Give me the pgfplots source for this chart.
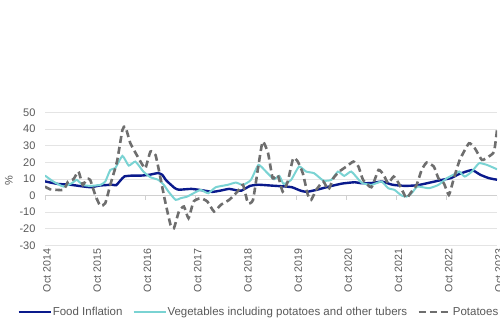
\documentclass[border=0pt]{standalone}
\usepackage{pgfplots}
\pgfplotsset{compat=1.18}
\usepackage{fontspec}
\setmainfont{Liberation Sans}
\definecolor{foodc}{HTML}{0A1A8C}
\definecolor{vegc}{HTML}{7AD3D3}
\definecolor{potc}{HTML}{6E6E6E}
\definecolor{gridc}{HTML}{E4E4E4}
\definecolor{txtc}{HTML}{595959}
\definecolor{tickc}{HTML}{D0D0D0}
\begin{document}
\begin{tikzpicture}
\useasboundingbox (0,0) rectangle (500pt,326pt);
\begin{axis}[
  at={(45pt,80.5pt)}, anchor=south west,
  scale only axis, width=452pt, height=133.2pt,
  xmin=0, xmax=108, ymin=-30, ymax=50,
  axis line style={draw=none},
  xtick={0,12,...,108},
  xticklabels={Oct 2014,Oct 2015,Oct 2016,Oct 2017,Oct 2018,Oct 2019,Oct 2020,Oct 2021,Oct 2022,Oct 2023},
  ytick={-30,-20,...,50},
  yticklabels={-30,-20,-10,0,10,20,30,40,50},
  major tick length=0pt,
  ymajorgrids, grid style={gridc, line width=0.8pt},
  xticklabel style={rotate=90, anchor=east, font=\fontsize{10.6}{11}\selectfont, text=txtc, yshift=-2pt},
  yticklabel style={font=\fontsize{11}{12}\selectfont, text=txtc, xshift=-6pt},
  ylabel={\%}, ylabel style={at={(axis description cs:-0.08,0.49)}, anchor=center, rotate=0, font=\fontsize{11}{12}\selectfont, text=txtc},
  legend columns=3,
  legend style={draw=none, fill=none, at={(axis description cs:0.472,-0.5)}, anchor=center,
    font=\fontsize{11.5}{12}\selectfont, text=txtc, inner sep=0pt,
    /tikz/every even column/.append style={column sep=9pt},
    nodes={inner sep=1pt}},
  legend image code/.code={\draw[#1] (0pt,0pt) -- (32pt,0pt);},
]
\draw[tickc, line width=0.8pt] (axis cs:0,0) -- (axis cs:108,0);
\pgfplotsinvokeforeach{0,12,...,108}{\draw[tickc, line width=0.8pt] (axis cs:#1,0) -- ([yshift=-4pt]axis cs:#1,0);}
\addplot[foodc, line width=2.4pt, smooth, tension=0.3] coordinates {
(0,8.5) (3,7) (6,6.5) (9,5.5) (11,5) (13,6) (16,6.5) (17,6.2) (18,9) (19,11.5) (21,12) (23,12) (25,12.5) (27,13.5) (28,12.5) (29,9) (31,4.5) (32,3.5) (35,4) (38,3) (40,2.2) (42,3) (44,4) (46,3) (47,3) (49,5.8) (51,6.5) (54,6) (57,5.5) (59,5) (61,3) (62.5,2.2) (65,3.5) (68,5.5) (71,7.2) (74,8) (75.5,7.4) (78,7.5) (80.5,8.4) (83,6.5) (86,5.8) (89,6.2) (92,7.8) (95,9.5) (97,10.5) (99,13) (102,15.3) (104,12.5) (106,10.5) (108,9.5)
};
\addlegendentry{Food Inflation}
\addplot[vegc, line width=2pt, smooth, tension=0.3] coordinates {
(0,12) (2,8.4) (4.4,5.4) (6.4,7.4) (7.6,9.4) (9,6.4) (10.8,5.8) (13.2,6.4) (14.4,8.4) (15.6,15.4) (16.8,16.5) (18.5,23.8) (20,18) (21.6,20.4) (23.5,14.4) (25.2,11) (27.1,9.4) (28.4,6.4) (29.5,2.4) (31.2,-2.6) (32.4,-1.6) (34,-0.6) (35.5,1.4) (37.2,3.4) (39,1.4) (40.8,5) (43.6,6.4) (45.6,7.8) (47.3,6.4) (49.2,9.4) (51,18.4) (52.8,14.4) (54.7,9.8) (56,11.8) (57,7) (58.8,9.4) (60.7,17.4) (62.4,14.4) (64.3,13.4) (66.5,9) (68.4,9.4) (70,14.4) (71.5,11.8) (73.2,14.4) (75.6,7.8) (78,6.4) (80.4,8.4) (82,4.4) (83.5,3.4) (85.2,0) (86.4,-0.6) (87.6,1.4) (89,5.4) (91.7,4.4) (94,6.4) (96,10.4) (98,13) (99,14.4) (100.3,11.4) (102,14.4) (103.7,19.4) (105.6,18.4) (108,15.8)
};
\addlegendentry{Vegetables including potatoes and other tubers}
\addplot[potc, line width=2.6pt, dash pattern=on 7pt off 4pt, smooth, tension=0.3] coordinates {
(0,5.4) (1.2,3.8) (4.4,3.4) (5.5,8.4) (6.8,9.8) (8,14.4) (9,6.4) (10,10) (10.8,9.4) (12,0.4) (13.2,-6.2) (14.4,-4.6) (15.6,6.4) (17.2,20.4) (18.5,39.4) (19.2,41.4) (20.4,31.4) (22,24) (23.3,18.4) (24,16.4) (25.2,26.4) (26.4,24.4) (27.6,10.4) (28.8,-4.6) (30,-17.6) (30.8,-19.6) (32,-9.6) (33.2,-6.6) (34.3,-13.6) (35.5,-3.6) (37.2,-1.6) (38.8,-3.6) (40.4,-9.6) (42,-5.6) (44,-2.6) (46,2.4) (47.3,6.4) (48.5,-4.6) (49.7,-2.6) (50.9,16.4) (52,32.4) (53.3,25.4) (54.4,10.4) (55.6,12.4) (56.8,2.4) (58,8.4) (59.3,22.4) (60.4,20.4) (61.6,13.4) (62.8,0.4) (63.6,-2.6) (64.8,3.4) (66.5,8.4) (67.7,3.4) (68.9,10.4) (70.3,14.4) (72,17.4) (73.7,20.4) (74.9,17.4) (76,9.4) (78,5) (79.7,15.4) (80.9,12.4) (82,7.4) (83.3,11.4) (84.5,7.4) (85.7,1.4) (86.4,-1.6) (87.6,2.4) (88.8,6.4) (90,15.4) (91.2,19.8) (92.9,17.4) (94,10.4) (95.3,7.4) (96.5,0.4) (97.7,10.4) (99.1,21.4) (101.3,31.4) (102.7,28.4) (104.4,21.4) (106,23.4) (107.3,26.4) (108,39.4)
};
\addlegendentry{Potatoes}
\end{axis}
\end{tikzpicture}
\end{document}
